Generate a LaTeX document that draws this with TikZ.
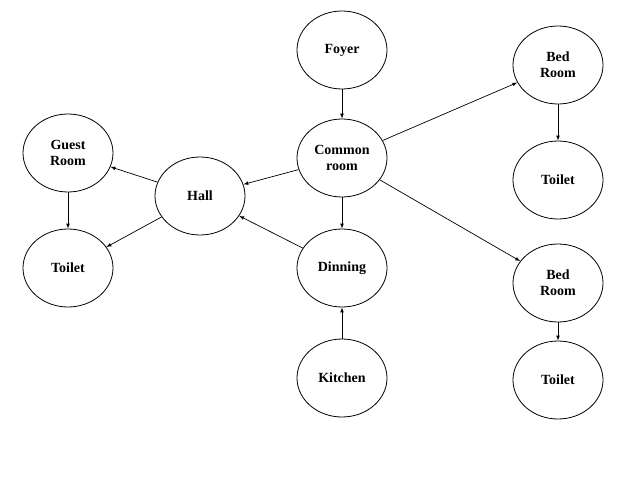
\documentclass[tikz,border=0pt]{standalone}
\usepackage{fontspec}
\setmainfont{Liberation Serif}
\usetikzlibrary{shapes,arrows,positioning}
\begin{document}
\begin{tikzpicture}[x=1pt,y=-1pt,
    room/.style={draw,ellipse,minimum width=90pt,minimum height=78pt,align=center,
      font=\fontsize{14}{16}\selectfont\bfseries,line width=0.8pt},
    link/.style={-latex,line width=0.7pt}]
    \useasboundingbox (0,0) rectangle (638,479);
            % middle column
            \node[room] (foyer) at (342,50) {Foyer};
            \node[room] (common) at (342,158) {Common\\room};
            \node[room] (dinning) at (342,268) {Dinning};
            \node[room] (kitchen) at (342,378) {Kitchen};
            % left side
            \node[room] (hall) at (200,196) {Hall};
            \node[room] (guest) at (68,153) {Guest\\Room};
            \node[room] (toiletg) at (68,268) {Toilet};
            % right side
            \node[room] (bedA) at (558,65) {Bed\\Room};
            \node[room] (toiletA) at (558,180) {Toilet};
            \node[room] (bedB) at (558,283) {Bed\\Room};
            \node[room] (toiletB) at (558,380) {Toilet};
            % connectors
            \draw[link] (foyer) -- (common);
            \draw[link] (common) -- (bedA);
            \draw[link] (bedA) -- (toiletA);
            \draw[link] (common) -- (hall);
            \draw[link] (common) -- (dinning);
            \draw[link] (common) -- (bedB);
            \draw[link] (bedB) -- (toiletB);
            \draw[link] (hall) -- (guest);
            \draw[link] (hall) -- (toiletg);
            \draw[link] (guest) -- (toiletg);
            \draw[link] (dinning) -- (hall);
            \draw[link] (kitchen) -- (dinning);
\end{tikzpicture}
\end{document}
